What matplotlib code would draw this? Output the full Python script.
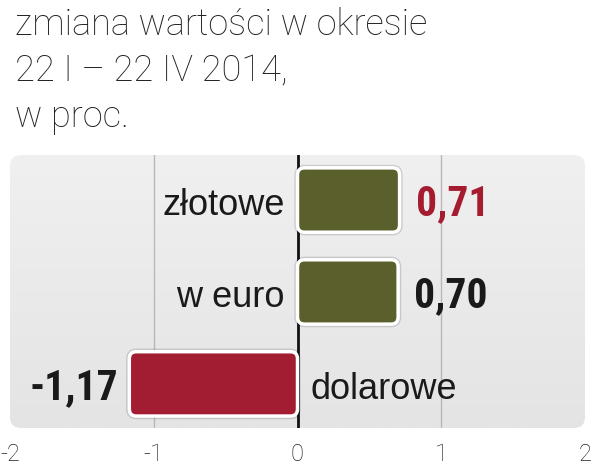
import matplotlib
matplotlib.use('Agg')
import matplotlib.pyplot as plt
from matplotlib.patches import FancyBboxPatch
from matplotlib.transforms import IdentityTransform
import numpy as np

categories = ['złotowe', 'w euro', 'dolarowe']
values = [0.71, 0.70, -1.17]
value_labels = ['0,71', '0,70', '-1,17']
bar_colors = ['#5a5f2c', '#5a5f2c', '#a31d32']
value_colors = ['#a51c30', '#1a1a1a', '#1a1a1a']
xticks = [-2, -1, 0, 1, 2]
xtick_labels = ['-2', '-1', '0', '1', '2']
title_lines = ['zmiana wartości w okresie', '22 I – 22 IV 2014,', 'w proc.']

LIGHT = ['Roboto', 'DejaVu Sans']
COND = ['Roboto Condensed', 'Liberation Sans', 'DejaVu Sans']
REG = ['Liberation Sans', 'DejaVu Sans']

W, H = 593, 470
fig = plt.figure(figsize=(W / 100, H / 100), dpi=100)
fig.patch.set_facecolor('white')

ax_l, ax_r, ax_t, ax_b = 10, 585, 155, 428
ax = fig.add_axes([ax_l / W, 1 - ax_b / H, (ax_r - ax_l) / W, (ax_b - ax_t) / H])
ax.patch.set_visible(False)
for s in ax.spines.values():
    s.set_visible(False)

XL = (-2, 2)
YL = (2.48, -0.49)

# rounded gradient background
axw, axh = ax_r - ax_l, ax_b - ax_t
r = 11
bg = FancyBboxPatch((0, 0), 1, 1, boxstyle=f'round,pad=0,rounding_size={r / axw}',
                    mutation_aspect=axw / axh, transform=ax.transAxes,
                    facecolor='none', edgecolor='none', zorder=0)
ax.add_patch(bg)
grad = np.linspace(0, 1, 256).reshape(-1, 1)
top_c = np.array([240, 240, 240]) / 255
bot_c = np.array([228, 228, 228]) / 255
img = top_c[None, None, :] * (1 - grad[:, :, None]) + bot_c[None, None, :] * grad[:, :, None]
im = ax.imshow(img, extent=[XL[0], XL[1], YL[0], YL[1]], aspect='auto', zorder=0,
               origin='upper')
im.set_clip_path(bg)

ax.set_xlim(*XL)
ax.set_ylim(*YL)

for xv in [-1, 1]:
    ax.axvline(xv, color='#b8b8b8', lw=1.0, zorder=1)
ax.axvline(0, color='#111111', lw=2.0, zorder=1)

ypos = np.arange(len(categories))
bars = ax.barh(ypos, values, height=0.7, color=bar_colors)
fig.canvas.draw()
for b, c in zip(bars, bar_colors):
    ext = b.get_window_extent()  # pixel box from the axes' data scales
    b.set_visible(False)
    x0, y0, w, h = ext.x0, ext.y0, ext.width, ext.height
    shadow = FancyBboxPatch((x0, y0), w, h, boxstyle='round,pad=0,rounding_size=7',
                            facecolor=c, edgecolor=(0, 0, 0, 0.14), lw=4.5,
                            transform=IdentityTransform(), zorder=2)
    ax.add_artist(shadow)
    p = FancyBboxPatch((x0, y0), w, h, boxstyle='round,pad=0,rounding_size=7',
                       facecolor=c, edgecolor='white', lw=2.5,
                       transform=IdentityTransform(), zorder=3)
    ax.add_artist(p)

BL = -15  # baseline offset (pixels, downward) from bar centre
for i, (cat, v, vl, vc) in enumerate(zip(categories, values, value_labels, value_colors)):
    if v >= 0:
        ax.annotate(cat, (0, i), xytext=(-13, BL), textcoords='offset pixels',
                    ha='right', va='baseline', fontsize=26, family=REG, color='#1a1a1a', zorder=4)
        ax.annotate(vl, (v, i), xytext=(16, BL), textcoords='offset pixels',
                    ha='left', va='baseline', fontsize=30, family=COND, weight='bold',
                    color=vc, zorder=4)
    else:
        ax.annotate(cat, (0, i), xytext=(13, BL), textcoords='offset pixels',
                    ha='left', va='baseline', fontsize=26, family=REG, color='#1a1a1a', zorder=4)
        ax.annotate(vl, (v, i), xytext=(-11, BL), textcoords='offset pixels',
                    ha='right', va='baseline', fontsize=30, family=COND, weight='bold',
                    color=vc, zorder=4)

ax.set_xticks(xticks, xtick_labels)
ax.tick_params(axis='x', length=0, pad=11, labelsize=17, labelcolor='#222222')
for t in ax.get_xticklabels():
    t.set_family(LIGHT)
    t.set_weight('light')
ax.tick_params(axis='y', left=False, labelleft=False)

baselines = [35, 81, 127]
for line, bl in zip(title_lines, baselines):
    fig.text(15 / W, 1 - bl / H, line, ha='left', va='baseline', fontsize=26,
             family=LIGHT, weight='light', color='#222222')

fig.savefig('out.png', dpi=100)
